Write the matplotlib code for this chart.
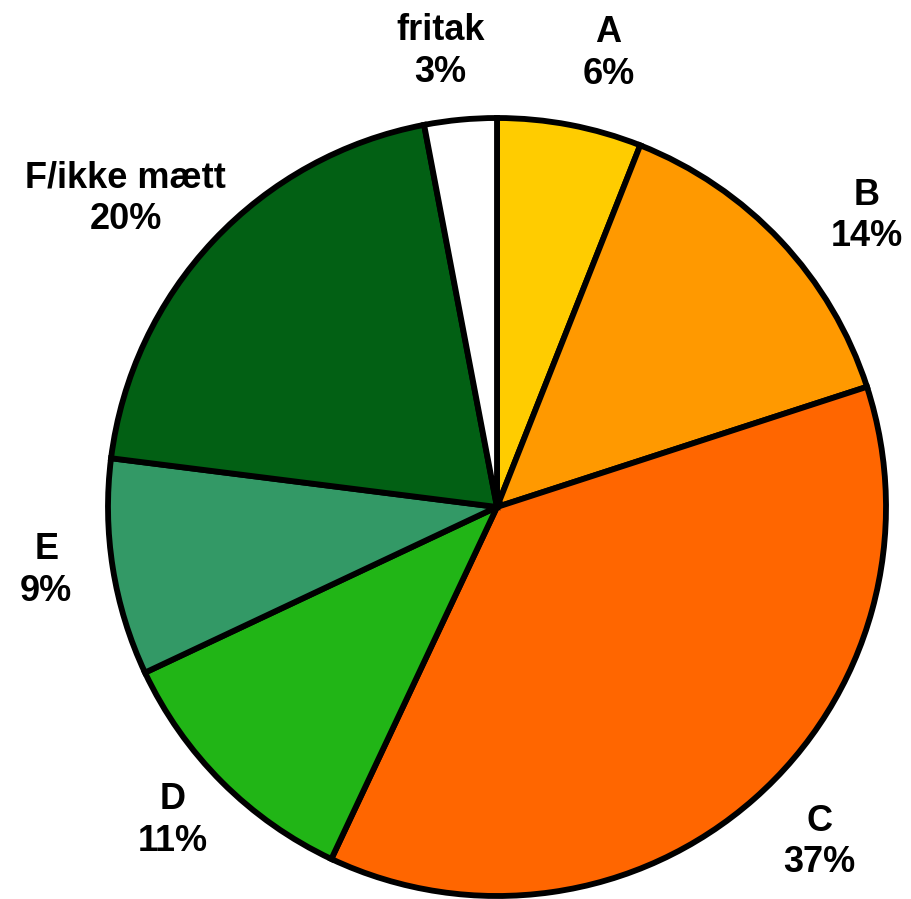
import numpy as np
import matplotlib.pyplot as plt

# karakterfordeling
labels = ['A', 'B', 'C', 'D', 'E', 'F/ikke mætt', 'fritak']
values = [6, 14, 37, 11, 9, 20, 3]
colors = ['#FFCC00', '#FF9900', '#FF6600', '#21B516', '#339966', '#026014', '#FFFFFF']

# small nudges so the labels sit where they do in the original
ang_shift = [-3, -5, 2.5, -1, -1, 3.5, 1.7]
dist = [1.20, 1.21, 1.195, 1.16, 1.17, 1.24, 1.18]

plt.rcParams['font.family'] = ['Liberation Sans', 'DejaVu Sans']

fig = plt.figure(figsize=(9.11, 8.99), dpi=100)
r_px = 389
ax = fig.add_axes([(497 - r_px) / 911, (392 - r_px) / 899, 2 * r_px / 911, 2 * r_px / 899])

wedges, _ = ax.pie(values, colors=colors, startangle=90, counterclock=False,
                   radius=1, wedgeprops=dict(edgecolor='black', linewidth=4.2))

for w, lab, v, da, d in zip(wedges, labels, values, ang_shift, dist):
    mid = np.deg2rad((w.theta1 + w.theta2) / 2 + da)
    ax.text(d * np.cos(mid), d * np.sin(mid), f'{lab}\n{v}%', ha='center', va='center',
            fontsize=26, fontweight='bold', linespacing=1.25)

ax.set_xlim(-1, 1)
ax.set_ylim(-1, 1)
ax.set_aspect('equal')
ax.axis('off')

fig.savefig('out.png', dpi=100)
